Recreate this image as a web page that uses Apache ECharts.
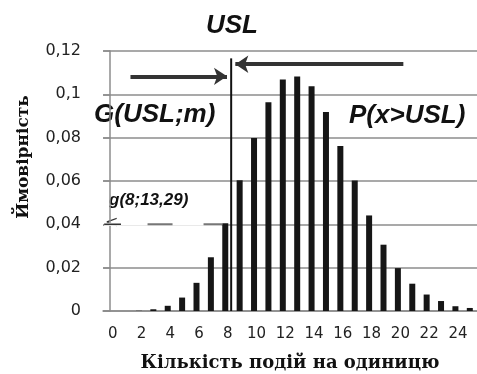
<!DOCTYPE html>
<html>
<head>
<meta charset="utf-8">
<script src="https://cdn.jsdelivr.net/npm/echarts@6/dist/echarts.min.js"></script>
<style>
  html, body { margin: 0; padding: 0; background: #fff; }
  #chart { width: 477px; height: 374px; }
</style>
</head>
<body>
<div id="chart"></div>
<script>
// кількість подій 0..25
const categories = ['0','1','2','3','4','5','6','7','8','9','10','11','12','13','14','15','16','17','18','19','20','21','22','23','24','25'];
// ймовірності
const probValues = [0, 0, 0.0001, 0.0008, 0.0024, 0.0062, 0.013, 0.0248, 0.0405, 0.0603, 0.0798, 0.0963, 0.1068, 0.1082,
  0.1037, 0.0918, 0.0762, 0.0602, 0.0441, 0.0306, 0.0198, 0.0126, 0.0076, 0.0046, 0.0022, 0.0014];

// допоміжні лінії (в координатах осей)
const uslX = 8.41;
const uslTop = 0.1166;
const gLevel = 0.04;

const chart = echarts.init(document.getElementById('chart'));

const fmt = (v) => String(+v.toFixed(2)).replace('.', ',');

const option = {
  animation: false,
  grid: { left: 103, top: 51, width: 377, height: 260 },
  xAxis: [
    {
      type: 'category',
      data: categories,
      axisLine: { lineStyle: { color: '#8c8c8c', width: 1.5 } },
      axisTick: { show: false },
      axisLabel: {
        interval: 1,
        margin: 16,
        color: '#222',
        fontSize: 15,
        fontFamily: 'DejaVu Sans',
        padding: [0, 0, 0, 5],
      },
    },
    {
      // прихована вісь для анотацій
      type: 'value',
      min: -0.5,
      max: 25.5,
      show: false,
    },
  ],
  yAxis: {
    type: 'value',
    min: 0,
    max: 0.12,
    interval: 0.02,
    axisLine: { show: true, lineStyle: { color: '#8c8c8c', width: 1.5 } },
    axisTick: { show: true, length: 7, lineStyle: { color: '#8c8c8c', width: 1.5 } },
    splitLine: { lineStyle: { color: '#8c8c8c', width: 1.5 } },
    axisLabel: {
      margin: 22,
      color: '#222',
      fontSize: 16,
      fontFamily: 'DejaVu Sans',
      formatter: (v) => fmt(v),
    },
  },
  series: [
    {
      // перекриває сітку під пунктиром
      type: 'line',
      xAxisIndex: 1,
      symbol: 'none',
      z: 1,
      lineStyle: { color: '#fff', width: 3 },
      data: [[-0.42, gLevel], [7.75, gLevel]],
    },
    {
      // g(8;13,29) пунктир
      type: 'line',
      xAxisIndex: 1,
      symbol: 'none',
      z: 3,
      lineStyle: { color: '#777', width: 2, type: [25, 31], dashOffset: 28 },
      data: [[0.65, gLevel], [7.8, gLevel]],
    },
    {
      type: 'line',
      xAxisIndex: 1,
      symbol: 'none',
      z: 3,
      lineStyle: { color: '#333', width: 1.5 },
      data: [[-0.42, gLevel], [0.75, gLevel]],
    },
    {
      type: 'bar',
      data: probValues,
      barWidth: 6,
      z: 2,
      itemStyle: { color: '#161616' },
    },
    {
      // USL
      type: 'line',
      xAxisIndex: 1,
      symbol: 'none',
      z: 4,
      lineStyle: { color: '#111', width: 2 },
      data: [[uslX, 0], [uslX, uslTop]],
      markLine: {
        silent: true,
        symbol: ['none', 'arrow'],
        symbolSize: [13, 13],
        label: { show: false },
        lineStyle: { color: '#333', width: 4, type: 'solid' },
        data: [
          [{ coord: [1.41, 0.1083] }, { coord: [8.12, 0.1083] }],
          [{ coord: [20.38, 0.1139] }, { coord: [8.7, 0.1139] }],
        ],
      },
    },
  ],
  graphic: [
    {
      type: 'text', left: 206, top: 13,
      style: { text: 'USL', font: 'italic bold 26px "Liberation Sans"', fill: '#111' },
    },
    {
      type: 'text', left: 94, top: 102,
      style: { text: 'G(USL;m)', font: 'italic bold 26px "Liberation Sans"', fill: '#111' },
    },
    {
      type: 'text', left: 349, top: 103,
      style: { text: 'P(x>USL)', font: 'italic bold 26px "Liberation Sans"', fill: '#111' },
    },
    {
      type: 'text', left: 109, top: 192,
      style: { text: 'g(8;13,29)', font: 'italic bold 17px "Liberation Sans"', fill: '#111' },
    },
    {
      type: 'text', left: 105, top: 215,
      style: { text: '<', font: '16px "DejaVu Sans"', fill: '#333' },
    },
    {
      type: 'text', x: 24, y: 157, rotation: Math.PI / 2,
      style: {
        text: 'Ймовірність', font: 'bold 17px "DejaVu Serif"', fill: '#111',
        textAlign: 'center', textVerticalAlign: 'middle',
      },
    },
    {
      type: 'text', x: 290, y: 363,
      style: {
        text: 'Кількість подій на одиницю', font: 'bold 18px "DejaVu Serif"', fill: '#111',
        textAlign: 'center', textVerticalAlign: 'middle',
      },
    },
  ],
};

chart.setOption(option);
</script>
</body>
</html>
